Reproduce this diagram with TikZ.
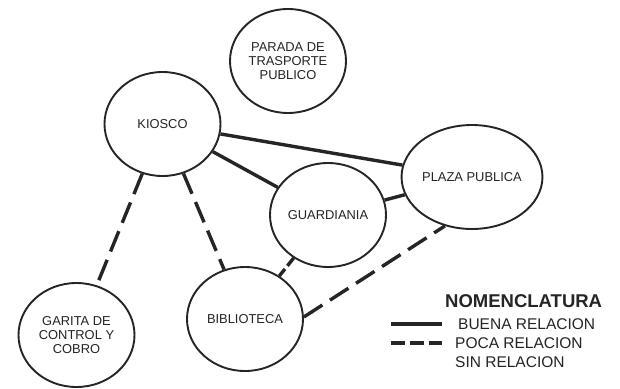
\documentclass[tikz,border=0pt]{standalone}
\usepackage{fontspec}
\setmainfont{Liberation Sans}
\usetikzlibrary{shapes.geometric}
\definecolor{ink}{RGB}{38,36,37}
\begin{document}
\begin{tikzpicture}[x=1pt,y=-1pt,
  place/.style={ellipse,draw=ink,line width=1.9pt,minimum width=116pt,minimum height=104pt,inner sep=0pt,align=center,text=ink,font=\fontsize{12.9}{14.2}\selectfont},
  good/.style={draw=ink,line width=3.4pt},
  poor/.style={draw=ink,line width=3.4pt,dash pattern=on 22pt off 9pt},
  legtext/.style={anchor=west,inner sep=0pt,text=ink,font=\fontsize{15.5}{17}\selectfont},
  legtitle/.style={anchor=west,inner sep=0pt,text=ink,font=\fontsize{18.5}{20}\selectfont\bfseries}]
\fill[white] (0,0) rectangle (620,388);
\useasboundingbox (0,0) rectangle (620,388);
\node[place] (parada) at (288,61) {PARADA DE\\TRASPORTE\\PUBLICO};
\node[place] (kiosco) at (162.5,124) {KIOSCO};
\node[place] (garita) at (76.5,335) {GARITA DE\\CONTROL Y\\COBRO};
\node[place] (guard) at (328,215) {GUARDIANIA};
\node[place] (bib) at (245,319) {BIBLIOTECA};
\node[place] (plaza) at (472,177) {PLAZA PUBLICA};
\draw[good] (kiosco) -- (plaza);
\draw[good] (kiosco) -- (guard);
\draw[good] (guard) -- (plaza);
\draw[poor] (kiosco) -- (garita);
\draw[poor] (kiosco) -- (bib);
\draw[poor,dash pattern=on 10pt off 4pt] (guard) -- (bib);
\draw[poor] (bib.2) -- (plaza.-119);
\node[legtitle] (title) at (445,301) {NOMENCLATURA};
\coordinate (g1) at (391,324); \coordinate (g2) at (442,324);
\coordinate (p1) at (391,343); \coordinate (p2) at (442,343);
\draw[draw=ink,line width=3.4pt] (g1) -- (g2);
\draw[draw=ink,line width=3.4pt,dash pattern=on 14pt off 5pt] (p1) -- (p2);
\node[legtext] (buena) at (458,324) {BUENA RELACION};
\node[legtext] (poca) at (455,343) {POCA RELACION};
\node[legtext] (sin) at (455,362) {SIN RELACION};
\end{tikzpicture}
\end{document}
